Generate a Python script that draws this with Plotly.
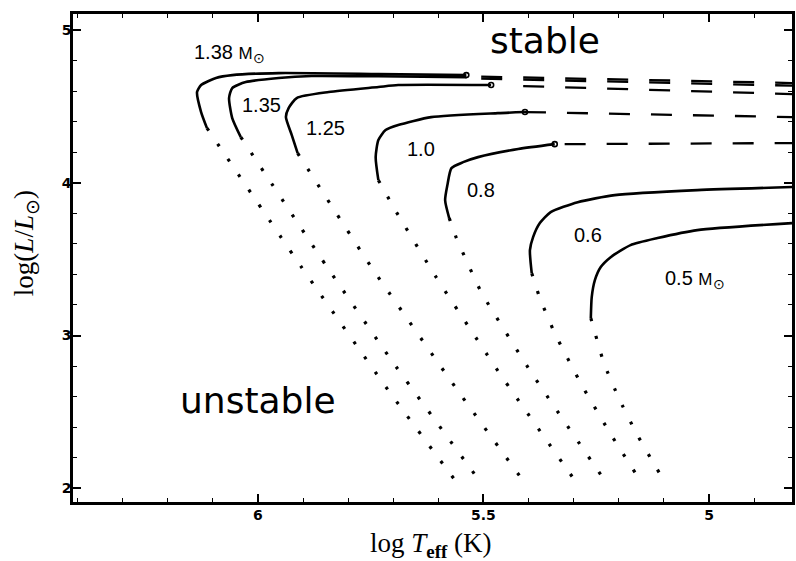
import plotly.graph_objects as go

# Core-mass tracks in the HR diagram (log Teff, log L/Lsun)
mass_labels = ["1.38", "1.35", "1.25", "1.0", "0.8", "0.6", "0.5"]

# solid segments (steady burning)
solid_x = {
    "1.38": [6.113, 6.126, 6.135, 6.126, 6.093, 6.057, 5.954, 5.733, 5.538],
    "1.35": [6.038, 6.057, 6.064, 6.057, 6.027, 5.954, 5.881, 5.733, 5.538],
    "1.25": [5.912, 5.925, 5.938, 5.932, 5.914, 5.843, 5.733, 5.689, 5.483],
    "1.0":  [5.733, 5.739, 5.733, 5.717, 5.689, 5.616, 5.468, 5.408],
    "0.8":  [5.576, 5.585, 5.580, 5.571, 5.545, 5.512, 5.423, 5.342],
    "0.6":  [5.393, 5.397, 5.390, 5.375, 5.351, 5.291, 5.209, 5.026, 4.816],
    "0.5":  [5.262, 5.260, 5.253, 5.240, 5.218, 5.174, 5.114, 5.026, 4.816],
}
solid_y = {
    "1.38": [4.358, 4.463, 4.594, 4.640, 4.686, 4.705, 4.718, 4.712, 4.705],
    "1.35": [4.299, 4.424, 4.555, 4.620, 4.659, 4.686, 4.699, 4.697, 4.692],
    "1.25": [4.194, 4.312, 4.430, 4.489, 4.555, 4.594, 4.627, 4.640, 4.640],
    "1.0":  [4.017, 4.168, 4.280, 4.345, 4.378, 4.430, 4.456, 4.463],
    "0.8":  [3.769, 3.886, 3.985, 4.096, 4.135, 4.168, 4.221, 4.253],
    "0.6":  [3.408, 3.559, 3.644, 3.736, 3.808, 3.873, 3.919, 3.952, 3.972],
    "0.5":  [3.114, 3.251, 3.362, 3.448, 3.513, 3.592, 3.638, 3.690, 3.736],
}

# dotted segments (unstable branch)
dotted_x = {
    "1.38": [6.113, 5.905, 5.708, 5.558],
    "1.35": [6.038, 5.848, 5.704, 5.505],
    "1.25": [5.912, 5.750, 5.556, 5.408],
    "1.0":  [5.733, 5.693, 5.605, 5.463, 5.293],
    "0.8":  [5.576, 5.560, 5.505, 5.393, 5.227],
    "0.6":  [5.393, 5.375, 5.342, 5.282, 5.218, 5.150],
    "0.5":  [5.262, 5.233, 5.200, 5.161, 5.119, 5.097],
}
dotted_y = {
    "1.38": [4.358, 3.454, 2.629, 2.033],
    "1.35": [4.299, 3.454, 2.838, 2.033],
    "1.25": [4.194, 3.454, 2.635, 2.033],
    "1.0":  [4.017, 3.808, 3.382, 2.747, 2.033],
    "0.8":  [3.769, 3.638, 3.284, 2.753, 2.033],
    "0.6":  [3.408, 3.245, 3.015, 2.675, 2.354, 2.039],
    "0.5":  [3.114, 2.819, 2.590, 2.360, 2.144, 2.039],
}

# dashed continuation toward cooler temperatures
dashed_masses = ["1.38", "1.35", "1.25", "1.0", "0.8"]
dashed_x = {
    "1.38": [5.505, 4.816],
    "1.35": [5.505, 4.816],
    "1.25": [5.412, 4.816],
    "1.0":  [5.408, 4.816],
    "0.8":  [5.320, 4.816],
}
dashed_y = {
    "1.38": [4.695, 4.653],
    "1.35": [4.682, 4.636],
    "1.25": [4.633, 4.581],
    "1.0":  [4.463, 4.430],
    "0.8":  [4.253, 4.260],
}

x_ticks = [6, 5.5, 5]
x_ticktext = ["6", "5.5", "5"]
y_ticks = [2, 3, 4, 5]
y_ticktext = ["2", "3", "4", "5"]

fig = go.Figure()

for m in mass_labels:
    fig.add_trace(go.Scatter(
        x=dotted_x[m], y=dotted_y[m], mode="lines",
        line=dict(color="black", width=3.2, dash="3px,15.5px", shape="spline", smoothing=0.4),
        hoverinfo="skip"))
    fig.add_trace(go.Scatter(
        x=solid_x[m], y=solid_y[m], mode="lines",
        line=dict(color="black", width=2.6, shape="spline", smoothing=0.6),
        hoverinfo="skip"))

for m in dashed_masses:
    fig.add_trace(go.Scatter(
        x=dashed_x[m], y=dashed_y[m], mode="lines",
        line=dict(color="black", width=2.3, dash="21px,21px"),
        hoverinfo="skip"))

# small circles where the solid tracks end
fig.add_trace(go.Scatter(
    x=[solid_x[m][-1] for m in dashed_masses if m != "1.35"],
    y=[solid_y[m][-1] for m in dashed_masses if m != "1.35"],
    mode="markers",
    marker=dict(symbol="circle-open", size=5, color="black", line=dict(width=1.6)),
    hoverinfo="skip"))

label_font = dict(family="Liberation Sans", size=20, color="black")
msun = "<span style='font-size:17px'>M</span><sub>⊙</sub>"
labels = [
    (6.146, 4.849, "1.38 " + msun, "left"),
    (5.993, 4.509, "1.35", "center"),
    (5.850, 4.358, "1.25", "center"),
    (5.638, 4.221, "1.0", "center"),
    (5.505, 3.952, "0.8", "center"),
    (5.269, 3.657, "0.6", "center"),
    (5.101, 3.369, "0.5 " + msun, "left"),
]
for lx, ly, txt, anc in labels:
    fig.add_annotation(x=lx, y=ly, text=txt, showarrow=False, xanchor=anc,
                       yanchor="middle", font=label_font)

region_font = dict(family="DejaVu Sans", size=36, color="black")
fig.add_annotation(x=5.364, y=4.934, text="stable", showarrow=False,
                   xanchor="center", yanchor="middle", font=region_font)
fig.add_annotation(x=6.0, y=2.577, text="unstable", showarrow=False,
                   xanchor="center", yanchor="middle", font=region_font)

title_font = dict(family="Liberation Serif", size=27, color="black")
fig.add_annotation(xref="paper", yref="paper", x=0.4986, y=-0.088,
                   text="log <i>T</i><sub><b>eff</b></sub> (K)", showarrow=False,
                   xanchor="center", yanchor="middle", font=title_font)
fig.add_annotation(xref="paper", yref="paper", x=-0.065, y=0.531,
                   text="log(<i>L</i>/<i>L</i><sub>⊙</sub>)", showarrow=False,
                   textangle=-90, xanchor="center", yanchor="middle", font=title_font)

tick_font = dict(family="DejaVu Sans", size=14, color="black", weight="bold")
axis_common = dict(
    ticks="inside", ticklen=8, tickwidth=1.5, tickcolor="black",
    showline=True, linewidth=2.5, linecolor="black", mirror="ticks",
    showgrid=False, zeroline=False, tickfont=tick_font,
)
fig.update_xaxes(range=[6.41, 4.816], tickmode="array", tickvals=x_ticks,
                 ticktext=x_ticktext, ticklabelstandoff=-2,
                 minor=dict(tickmode="linear", tick0=5, dtick=0.1, ticks="inside",
                            ticklen=4, tickwidth=1.2, tickcolor="black", showgrid=False),
                 **axis_common)
fig.update_yaxes(range=[1.91, 5.105], tickmode="array", tickvals=y_ticks,
                 ticktext=y_ticktext, ticklabelstandoff=-4,
                 minor=dict(tickmode="linear", tick0=2, dtick=0.2, ticks="inside",
                            ticklen=4, tickwidth=1.2, tickcolor="black", showgrid=False),
                 **axis_common)

fig.update_layout(width=796, height=561, margin=dict(l=73, r=1, t=14, b=59),
                  plot_bgcolor="white", paper_bgcolor="white", showlegend=False)

fig.write_html("out.html")
